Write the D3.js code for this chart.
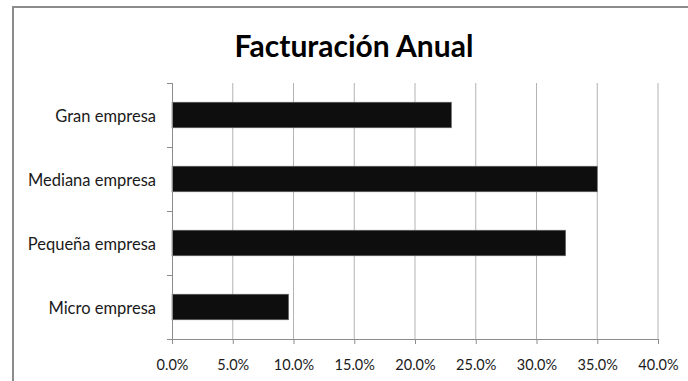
<!DOCTYPE html>
<html>
<head>
<meta charset="utf-8">
<script src="https://cdn.jsdelivr.net/npm/d3@7"></script>
<style>
  html, body { margin: 0; padding: 0; background: #fff; }
  svg { display: block; }
  text { font-family: Lato, "Open Sans", sans-serif; fill: #1a1a1a; }
</style>
</head>
<body>
<svg id="chart" width="688" height="381"></svg>
<script>
// Annual turnover share by company size
const categories = ["Gran empresa", "Mediana empresa", "Pequeña empresa", "Micro empresa"];
const values = [0.23, 0.35, 0.324, 0.096];
const xTicks = [0, 0.05, 0.10, 0.15, 0.20, 0.25, 0.30, 0.35, 0.40];
const title = "Facturación Anual";

const svg = d3.select("#chart");
const W = 688, H = 381;
const plot = { left: 172, right: 658, top: 83, bottom: 339 };

// chart frame
svg.append("rect")
  .attr("x", 13).attr("y", 7)
  .attr("width", W).attr("height", H)
  .attr("fill", "#fff")
  .attr("stroke", "#8c8c8c")
  .attr("stroke-width", 2);

svg.append("text")
  .attr("x", 354).attr("y", 57)
  .attr("text-anchor", "middle")
  .attr("font-size", 30)
  .attr("font-weight", 700)
  .style("fill", "#000")
  .text(title);

const x = d3.scaleLinear().domain([0, 0.40]).range([plot.left, plot.right]);
const y = d3.scaleBand().domain(categories)
  .range([plot.top, plot.bottom])
  .paddingInner(0.6).paddingOuter(0.3);

// vertical gridlines
svg.append("g").selectAll("line")
  .data(xTicks.slice(1))
  .join("line")
  .attr("x1", d => x(d)).attr("x2", d => x(d))
  .attr("y1", plot.top).attr("y2", plot.bottom)
  .attr("stroke", "#b3b3b3").attr("stroke-width", 1);

// bars
svg.append("g").selectAll("rect")
  .data(categories)
  .join("rect")
  .attr("x", x(0))
  .attr("y", d => y(d))
  .attr("width", (d, i) => x(values[i]) - x(0))
  .attr("height", y.bandwidth())
  .attr("fill", "#0e0e0e")
  .attr("stroke", "#6e6e6e")
  .attr("stroke-width", 0.6);

// x axis
const xAxis = d3.axisBottom(x)
  .tickValues(xTicks)
  .tickFormat(d3.format(".1%"))
  .tickSize(5).tickPadding(16);
const gx = svg.append("g")
  .attr("transform", `translate(0,${plot.bottom})`)
  .call(xAxis);
gx.select(".domain").attr("stroke", "#8c8c8c").attr("d", `M${plot.left - 5},0.5H${plot.right}`);
gx.selectAll(".tick line").attr("stroke", "#8c8c8c");
gx.selectAll(".tick text")
  .attr("font-family", "Lato, 'Open Sans', sans-serif")
  .attr("font-size", 14.5).style("fill", "#1a1a1a");

// y axis: labels centred on bars, tick marks at band boundaries
const yAxis = d3.axisLeft(y).tickSize(0).tickPadding(16);
const gy = svg.append("g")
  .attr("transform", `translate(${plot.left},0)`)
  .call(yAxis);
gy.select(".domain").attr("stroke", "#8c8c8c").attr("d", `M0.5,${plot.top}V${plot.bottom}`);
gy.selectAll(".tick text")
  .attr("font-family", "Lato, 'Open Sans', sans-serif")
  .attr("font-size", 16.5).attr("dy", "0.42em").style("fill", "#1a1a1a");

const step = y.step();
const bounds = categories.map(c => y(c) - step * y.paddingInner() / 2);
bounds.push(plot.bottom);
gy.selectAll("line.bound")
  .data(bounds)
  .join("line")
  .attr("class", "bound")
  .attr("x1", -5).attr("x2", 0)
  .attr("y1", d => Math.round(d) + 0.5).attr("y2", d => Math.round(d) + 0.5)
  .attr("stroke", "#8c8c8c");
</script>
</body>
</html>
